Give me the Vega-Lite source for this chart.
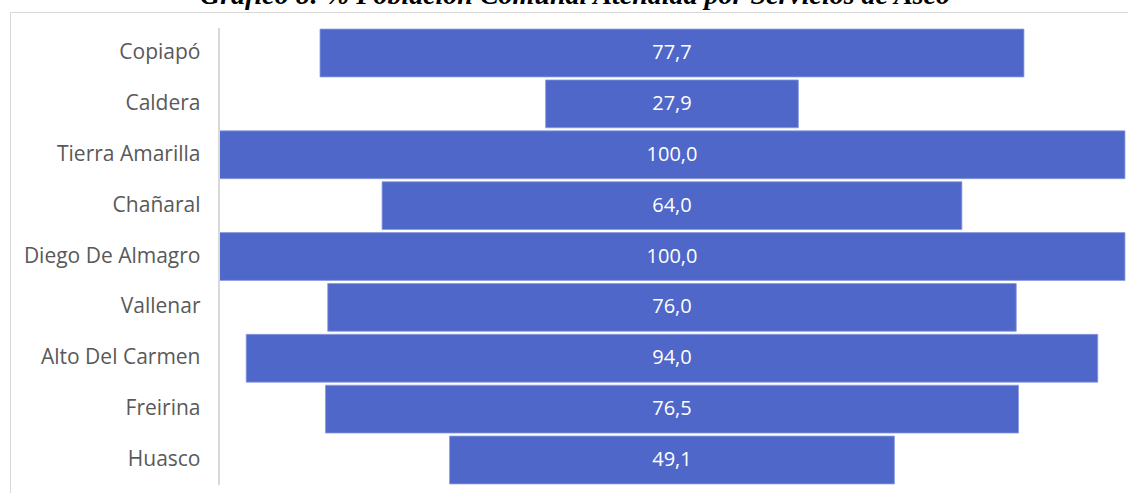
{
  "$schema": "https://vega.github.io/schema/vega-lite/v6.json",
  "autosize": {"type": "none"},
  "padding": {"left": 10, "top": 12, "right": 0, "bottom": 0},
  "width": 1130,
  "height": 489,
  "title": {
    "text": "Gráfico 8: % Población Comunal Atendida por Servicios de Aseo",
    "font": "Liberation Serif",
    "fontSize": 28,
    "fontWeight": "bold",
    "fontStyle": "italic",
    "color": "#000000",
    "anchor": "middle",
    "baseline": "alphabetic",
    "offset": -20
  },
  "config": {
    "view": {"stroke": "#d9d9d9", "strokeWidth": 1},
    "locale": {"number": {"decimal": ",", "thousands": ".", "grouping": [3], "currency": ["", " €"]}}
  },
  "data": {
    "values": [
      {"comuna": "Copiapó", "pct": 77.7},
      {"comuna": "Caldera", "pct": 27.9},
      {"comuna": "Tierra Amarilla", "pct": 100.0},
      {"comuna": "Chañaral", "pct": 64.0},
      {"comuna": "Diego De Almagro", "pct": 100.0},
      {"comuna": "Vallenar", "pct": 76.0},
      {"comuna": "Alto Del Carmen", "pct": 94.0},
      {"comuna": "Freirina", "pct": 76.5},
      {"comuna": "Huasco", "pct": 49.1}
    ]
  },
  "encoding": {
    "y": {
      "field": "comuna",
      "type": "nominal",
      "sort": null,
      "scale": {"paddingInner": 0.06, "paddingOuter": 0.336},
      "axis": {
        "title": null,
        "domain": false,
        "ticks": false,
        "offset": -209,
        "labelPadding": 19,
        "labelFont": "Open Sans",
        "labelFontSize": 21,
        "labelColor": "#595959"
      }
    }
  },
  "layer": [
    {
      "mark": {"type": "bar", "color": "#4F67C8", "stroke": "#8a9ae0", "strokeWidth": 0.8},
      "encoding": {
        "x": {
          "field": "pct",
          "type": "quantitative",
          "stack": "center",
          "scale": {"domain": [-23.07, 101.66], "nice": false, "zero": false},
          "axis": null
        }
      }
    },
    {
      "mark": {"type": "rule", "color": "#d9d9d9", "strokeWidth": 1.5, "yOffset": -25, "y2Offset": 25},
      "encoding": {
        "x": {"datum": 0, "type": "quantitative"},
        "y": {"datum": "Copiapó"},
        "y2": {"datum": "Huasco"}
      }
    },
    {
      "mark": {"type": "text", "color": "#ffffff", "font": "Open Sans", "fontSize": 20, "align": "center", "baseline": "middle"},
      "encoding": {
        "x": {"datum": 50, "type": "quantitative"},
        "text": {"field": "pct", "type": "quantitative", "format": ".1f"}
      }
    }
  ]
}
